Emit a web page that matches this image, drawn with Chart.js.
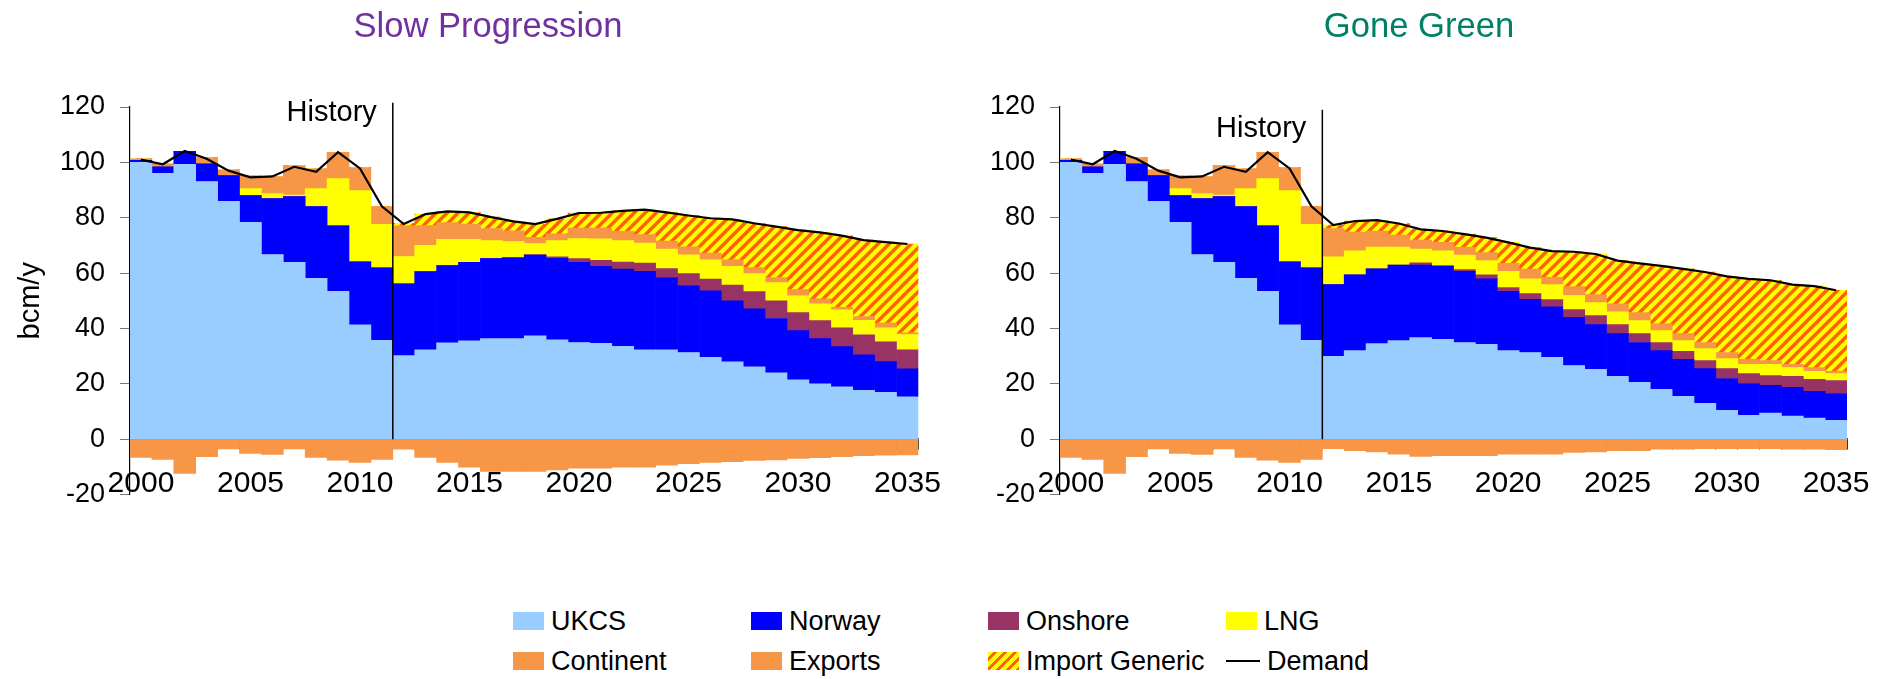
<!DOCTYPE html>
<html>
<head>
<meta charset="utf-8">
<script src="https://cdn.jsdelivr.net/npm/chart.js@4/dist/chart.umd.min.js"></script>
<style>
  body { margin: 0; background: #fff; }
  #page { position: relative; width: 1887px; height: 679px; overflow: hidden; font-family: "Liberation Sans", Arial, sans-serif; }
  #slowCanvas { position: absolute; left: 0; top: 0; }
  #greenCanvas { position: absolute; left: 951px; top: 0; }
  .legend-item { position: absolute; display: flex; align-items: center; height: 18px; font-size: 27px; color: #000; white-space: nowrap; }
  .swatch { width: 31px; height: 18px; margin-right: 7px; flex: none; }
  .swatch.line { width: 34px; height: 2px; background: #000; margin-right: 7px; }
</style>
</head>
<body>
<div id="page">
  <canvas id="slowCanvas" width="976" height="560"></canvas>
  <canvas id="greenCanvas" width="936" height="560"></canvas>
  <div id="legend"></div>
</div>
<script>
// Years on the category axis
const years = [2000, 2001, 2002, 2003, 2004, 2005, 2006, 2007, 2008, 2009, 2010, 2011,
  2012, 2013, 2014, 2015, 2016, 2017, 2018, 2019, 2020, 2021, 2022, 2023,
  2024, 2025, 2026, 2027, 2028, 2029, 2030, 2031, 2032, 2033, 2034, 2035];

// History 2000-2011 (same in both scenarios), bcm/y
const histUkcs = [100.0, 96.0, 99.3, 93.1, 85.9, 78.3, 66.7, 63.9, 58.1, 53.4, 41.3, 35.7];
const histNorway = [0.7, 2.4, 4.7, 6.4, 9.3, 9.7, 20.2, 23.7, 25.9, 23.7, 22.8, 26.2];
const histOnshore = [0, 0, 0, 0, 0, 0, 0, 0, 0, 0, 0, 0];
const histLng = [0, 0, 0, 0, 0, 2.5, 1.8, 0.6, 6.5, 17.0, 25.7, 15.7];
const histContinent = [0.6, 1.1, 0, 2.2, 2.1, 4.6, 6.2, 10.6, 7.2, 9.5, 8.3, 6.4];
const histImport = [0, 0, 0, 0, 0, 0, 0, 0, 0, 0, 0, 0];
const histExports = [-6.6, -7.3, -12.4, -6.3, -3.5, -5.2, -5.5, -3.5, -6.6, -7.6, -8.4, -7.3];
const histDemand = [101.0, 99.3, 104.1, 101.3, 97.0, 94.6, 94.9, 98.4, 96.6, 103.7, 97.8, 84.1];

// Slow Progression 2012-2035
const spUkcs = [30.2, 32.3, 34.8, 35.5, 36.3, 36.3, 37.3, 35.9, 34.9, 34.6, 33.5, 32.3,
  32.3, 31.3, 29.6, 27.9, 26.1, 24.0, 21.4, 20.0, 18.9, 17.6, 16.9, 15.3];
const spNorway = [25.9, 28.2, 27.9, 28.4, 28.9, 29.1, 29.2, 29.4, 29.0, 27.8, 27.9, 28.3,
  26.1, 24.1, 24.0, 22.1, 21.0, 19.6, 17.8, 16.3, 14.5, 12.9, 11.1, 10.1];
const spOnshore = [0, 0, 0, 0, 0.1, 0.3, 0.2, 0.6, 1.3, 2.2, 2.6, 3.0,
  3.2, 4.4, 4.2, 5.7, 6.2, 6.4, 6.5, 6.5, 6.8, 7.2, 7.2, 6.9];
const spLng = [9.9, 9.5, 9.5, 8.3, 6.4, 5.7, 4.0, 5.8, 7.3, 7.8, 7.7, 7.2,
  7.1, 6.8, 7.0, 6.7, 6.5, 6.6, 6.1, 6.1, 6.5, 5.2, 5.0, 5.5];
const spContinent = [11.1, 7.2, 6.0, 5.5, 4.4, 3.9, 2.2, 2.5, 3.8, 3.9, 3.4, 3.1,
  2.9, 2.9, 2.4, 2.4, 2.2, 1.8, 2.2, 1.8, 0.9, 1.4, 1.7, 0.6];
const spImport = [0.9, 4.1, 4.1, 4.2, 4.1, 3.4, 4.8, 5.4, 5.4, 5.5, 7.4, 9.0,
  10.3, 11.3, 12.6, 14.6, 16.0, 18.4, 21.5, 24.0, 25.9, 27.6, 29.3, 32.1];
const spExports = [-3.6, -6.6, -8.4, -10.1, -11.7, -11.7, -11.7, -11.1, -10.5, -10.5, -10.1, -10.1,
  -9.4, -8.9, -8.4, -8.1, -7.7, -7.5, -7.0, -6.7, -6.3, -6.0, -5.8, -5.7];
const spDemand = [77.7, 81.3, 82.3, 81.9, 80.2, 78.7, 77.7, 79.6, 81.7, 81.8, 82.5, 82.9,
  81.9, 80.8, 79.8, 79.4, 78.0, 76.8, 75.5, 74.7, 73.5, 71.9, 71.2, 70.5];

// Gone Green 2012-2035
const ggUkcs = [29.9, 32.0, 34.5, 35.6, 36.7, 36.1, 34.9, 34.3, 32.0, 31.3, 29.6, 26.6,
  25.2, 22.7, 20.5, 18.0, 15.5, 12.9, 10.4, 8.6, 9.4, 8.3, 7.6, 6.8];
const ggNorway = [25.9, 27.4, 27.0, 27.3, 26.2, 26.3, 25.7, 23.6, 21.4, 19.2, 18.2, 17.4,
  16.2, 15.4, 14.4, 14.0, 13.3, 12.6, 11.5, 11.5, 10.0, 10.4, 9.7, 9.7];
const ggOnshore = [0, 0, 0, 0, 0.8, 0.3, 0.7, 1.5, 1.4, 2.1, 2.6, 2.8,
  3.2, 3.3, 3.2, 2.9, 2.9, 2.9, 3.6, 3.6, 3.6, 4.0, 4.3, 4.7];
const ggLng = [10.1, 8.6, 7.9, 6.5, 5.0, 5.3, 5.2, 5.1, 5.8, 5.3, 5.4, 5.1,
  4.7, 4.6, 4.7, 4.3, 3.9, 4.3, 3.6, 3.3, 4.0, 3.2, 2.9, 2.5];
const ggContinent = [10.2, 6.8, 5.8, 4.3, 3.2, 3.1, 2.8, 2.9, 2.9, 3.5, 2.7, 3.2,
  2.9, 2.9, 2.9, 2.5, 2.5, 2.2, 2.2, 1.8, 1.4, 1.1, 1.4, 0.8];
const ggImport = [1.2, 4.0, 3.9, 4.2, 3.9, 4.1, 4.8, 5.4, 7.6, 7.8, 9.4, 12.6,
  14.7, 15.6, 17.8, 20.9, 23.4, 25.5, 27.5, 29.1, 29.0, 28.8, 29.4, 29.3];
const ggExports = [-3.4, -4.2, -4.6, -5.4, -6.2, -6.0, -6.0, -6.0, -5.4, -5.4, -5.4, -4.8,
  -4.6, -4.2, -4.2, -3.6, -3.6, -3.4, -3.4, -3.4, -3.4, -3.6, -3.6, -3.8];
const ggDemand = [77.3, 78.8, 79.1, 77.9, 75.8, 75.2, 74.1, 72.8, 71.1, 69.2, 67.9, 67.7,
  66.9, 64.5, 63.5, 62.6, 61.5, 60.4, 58.8, 57.9, 57.4, 55.8, 55.3, 53.8];

const colors = {
  ukcs: "#99CCFF",
  norway: "#0000FF",
  onshore: "#993366",
  lng: "#FFFF00",
  continent: "#F79646",
  exports: "#F79646",
  demand: "#000000",
};

const FONT = '"Liberation Sans", Arial, sans-serif';
Chart.defaults.font.family = FONT;
Chart.defaults.color = "#000";

// Yellow with orange-red diagonal stripes for "Import Generic"
function makeHatch() {
  const s = 11;
  const c = document.createElement("canvas");
  c.width = s;
  c.height = s;
  const g = c.getContext("2d");
  g.fillStyle = "#FFFF00";
  g.fillRect(0, 0, s, s);
  g.strokeStyle = "#FF6000";
  g.lineWidth = 3.4;
  g.beginPath();
  g.moveTo(-1, s + 1); g.lineTo(s + 1, -1);
  g.moveTo(-s / 2 - 1, s / 2 + 1); g.lineTo(s / 2 + 1, -s / 2 - 1);
  g.moveTo(s / 2 - 1, s * 1.5 + 1); g.lineTo(s * 1.5 + 1, s / 2 - 1);
  g.stroke();
  return g.createPattern(c, "repeat");
}
const hatch = makeHatch();

// Chart title, placed like the original (not centred on the plot)
const scenarioTitle = {
  id: "scenarioTitle",
  afterDraw(chart, args, opts) {
    const ctx = chart.ctx;
    ctx.save();
    ctx.font = "34.6px " + FONT;
    ctx.fillStyle = opts.color;
    ctx.textAlign = "center";
    ctx.textBaseline = "alphabetic";
    ctx.fillText(opts.text, opts.x, 36.7);
    ctx.restore();
  },
};

// Vertical "History" divider plus its label
const historyMarker = {
  id: "historyMarker",
  afterDatasetsDraw(chart, args, opts) {
    const x = chart.scales.x;
    const y = chart.scales.y;
    const px = (x.getPixelForTick(opts.index - 1) + x.getPixelForTick(opts.index)) / 2;
    const ctx = chart.ctx;
    ctx.save();
    ctx.strokeStyle = "#000";
    ctx.lineWidth = 1.5;
    ctx.beginPath();
    ctx.moveTo(px, y.getPixelForValue(opts.top));
    ctx.lineTo(px, y.getPixelForValue(0));
    ctx.stroke();
    ctx.font = "29px " + FONT;
    ctx.fillStyle = "#000";
    ctx.textAlign = "right";
    ctx.textBaseline = "alphabetic";
    ctx.fillText("History", px - 16, y.getPixelForValue(opts.labelAt));
    ctx.restore();
  },
};

function makeChart(canvasId, cfg) {
  const bar = (label, data, color) => ({ type: "bar", label, data, backgroundColor: color, order: 1 });
  return new Chart(document.getElementById(canvasId), {
    type: "bar",
    data: {
      labels: years,
      datasets: [
        {
          type: "line",
          label: "Demand",
          data: histDemand.concat(cfg.demand),
          borderColor: colors.demand,
          borderWidth: 2.2,
          pointRadius: 0,
          fill: false,
          tension: 0,
          stack: "demand",
          order: 0,
        },
        bar("UKCS", histUkcs.concat(cfg.ukcs), colors.ukcs),
        bar("Norway", histNorway.concat(cfg.norway), colors.norway),
        bar("Onshore", histOnshore.concat(cfg.onshore), colors.onshore),
        bar("LNG", histLng.concat(cfg.lng), colors.lng),
        bar("Continent", histContinent.concat(cfg.continent), colors.continent),
        bar("Import Generic", histImport.concat(cfg.imports), hatch),
        bar("Exports", histExports.concat(cfg.exports), colors.exports),
      ],
    },
    options: {
      responsive: false,
      devicePixelRatio: 1,
      animation: false,
      events: [],
      datasets: {
        bar: { categoryPercentage: 1, barPercentage: 1, borderWidth: 0 },
      },
      layout: { padding: { left: 0, right: cfg.rightPad, top: 107, bottom: 65.5 } },
      plugins: {
        legend: { display: false },
        tooltip: { enabled: false },
        title: { display: false },
        scenarioTitle: { text: cfg.title, color: cfg.titleColor, x: cfg.titleX },
        historyMarker: cfg.history,
      },
      scales: {
        x: {
          stacked: true,
          position: { y: 0 },
          ticks: {
            autoSkip: false,
            maxRotation: 0,
            padding: 17,
            font: { size: 30 },
            callback: (v, i) => (years[i] % 5 === 0 ? String(years[i]) : ""),
          },
          grid: { offset: true, drawOnChartArea: false, tickLength: 10, color: "#333" },
          border: { color: "#333", width: 1.5 },
        },
        y: {
          stacked: true,
          min: -20,
          max: 120,
          ticks: { stepSize: 20, padding: 15, font: { size: 27 } },
          grid: { drawOnChartArea: false, tickLength: 10, color: "#777" },
          border: { color: "#000", width: 1.2 },
          title: {
            display: cfg.showYTitle,
            text: "bcm/y",
            font: { size: 29 },
            padding: { top: 14, bottom: 0 },
          },
          afterFit(scale) {
            scale.width = cfg.axisWidth;
          },
        },
      },
    },
    plugins: [scenarioTitle, historyMarker],
  });
}

makeChart("slowCanvas", {
  title: "Slow Progression",
  titleColor: "#7030A0",
  titleX: 488,
  ukcs: spUkcs, norway: spNorway, onshore: spOnshore, lng: spLng,
  continent: spContinent, imports: spImport, exports: spExports, demand: spDemand,
  axisWidth: 130,
  rightPad: 57.6,
  showYTitle: true,
  history: { index: 12, top: 121.5, labelAt: 115 },
});

makeChart("greenCanvas", {
  title: "Gone Green",
  titleColor: "#008066",
  titleX: 468,
  ukcs: ggUkcs, norway: ggNorway, onshore: ggOnshore, lng: ggLng,
  continent: ggContinent, imports: ggImport, exports: ggExports, demand: ggDemand,
  axisWidth: 109,
  rightPad: 38.6,
  showYTitle: false,
  history: { index: 12, top: 119, labelAt: 109 },
});

// Shared legend, 4 columns x 2 rows
const legendCols = [513, 751, 988, 1226];
const legendRows = [612, 652];
const legendItems = [
  { label: "UKCS", fill: colors.ukcs },
  { label: "Norway", fill: colors.norway },
  { label: "Onshore", fill: colors.onshore },
  { label: "LNG", fill: colors.lng },
  { label: "Continent", fill: colors.continent },
  { label: "Exports", fill: colors.exports },
  { label: "Import Generic", fill: "repeating-linear-gradient(135deg, #FFFF00 0 4px, #FF6000 4px 7px)" },
  { label: "Demand", line: true },
];
const legendEl = document.getElementById("legend");
legendItems.forEach((item, i) => {
  const el = document.createElement("div");
  el.className = "legend-item";
  el.style.left = legendCols[i % 4] + "px";
  el.style.top = legendRows[Math.floor(i / 4)] + "px";
  const sw = document.createElement("span");
  sw.className = item.line ? "swatch line" : "swatch";
  if (!item.line) sw.style.background = item.fill;
  const txt = document.createElement("span");
  txt.textContent = item.label;
  el.appendChild(sw);
  el.appendChild(txt);
  legendEl.appendChild(el);
});
</script>
</body>
</html>
